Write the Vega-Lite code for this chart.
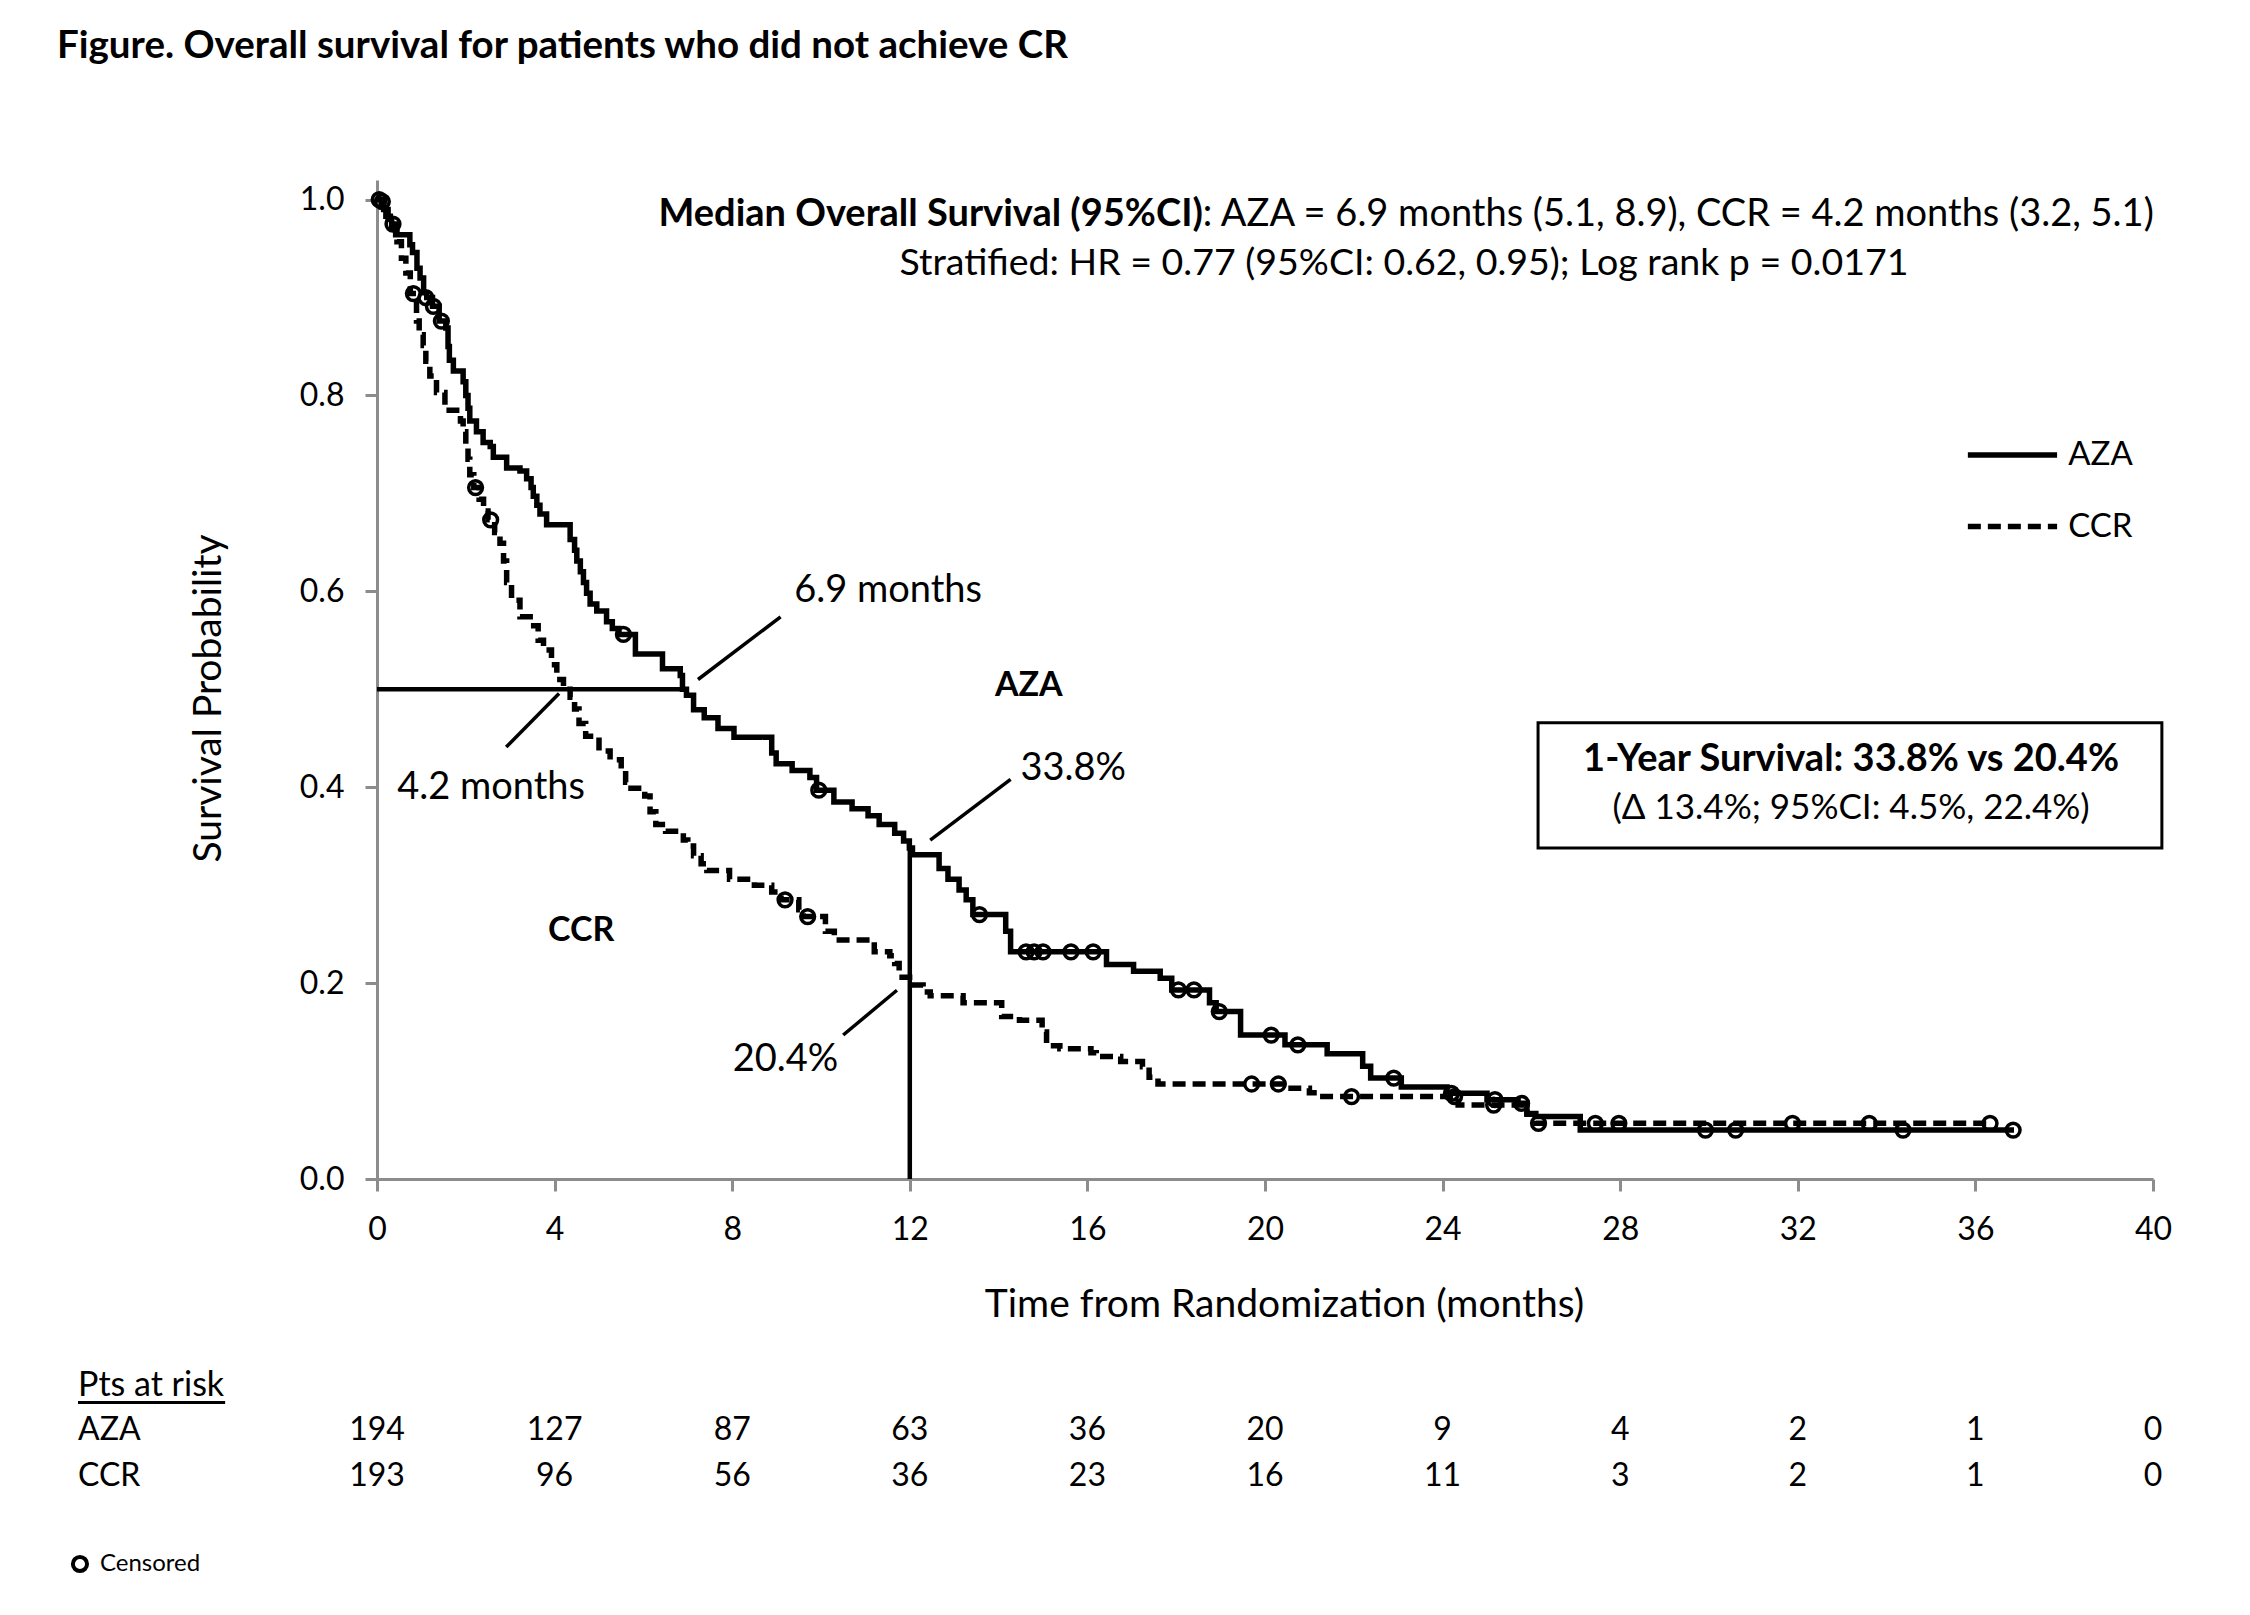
{
  "$schema": "https://vega.github.io/schema/vega-lite/v6.json",
  "width": 1776,
  "height": 999,
  "autosize": {"type": "none"},
  "padding": {"left": 377, "top": 180, "right": 97, "bottom": 436},
  "background": "white",
  "config": {"view": {"stroke": null}, "font": "Lato", "text": {"font": "Lato", "color": "black"}},
  "datasets": {
    "curves": [
      {"arm":"AZA","t":0,"S":1},{"arm":"AZA","t":0.15,"S":0.99},{"arm":"AZA","t":0.25,"S":0.98},{"arm":"AZA","t":0.33,"S":0.971},{"arm":"AZA","t":0.42,"S":0.964},{"arm":"AZA","t":0.74,"S":0.954},{"arm":"AZA","t":0.8,"S":0.946},{"arm":"AZA","t":0.9,"S":0.93},{"arm":"AZA","t":0.97,"S":0.92},{"arm":"AZA","t":1.05,"S":0.905},{"arm":"AZA","t":1.12,"S":0.9},{"arm":"AZA","t":1.25,"S":0.891},{"arm":"AZA","t":1.4,"S":0.876},{"arm":"AZA","t":1.55,"S":0.869},{"arm":"AZA","t":1.6,"S":0.85},{"arm":"AZA","t":1.63,"S":0.836},{"arm":"AZA","t":1.72,"S":0.825},{"arm":"AZA","t":1.94,"S":0.814},{"arm":"AZA","t":2.0,"S":0.8},{"arm":"AZA","t":2.05,"S":0.787},{"arm":"AZA","t":2.09,"S":0.774},{"arm":"AZA","t":2.24,"S":0.763},{"arm":"AZA","t":2.39,"S":0.752},{"arm":"AZA","t":2.55,"S":0.748},{"arm":"AZA","t":2.62,"S":0.737},{"arm":"AZA","t":2.92,"S":0.726},{"arm":"AZA","t":3.22,"S":0.723},{"arm":"AZA","t":3.37,"S":0.715},{"arm":"AZA","t":3.47,"S":0.706},{"arm":"AZA","t":3.52,"S":0.697},{"arm":"AZA","t":3.6,"S":0.688},{"arm":"AZA","t":3.67,"S":0.679},{"arm":"AZA","t":3.82,"S":0.668},{"arm":"AZA","t":4.35,"S":0.653},{"arm":"AZA","t":4.45,"S":0.642},{"arm":"AZA","t":4.5,"S":0.631},{"arm":"AZA","t":4.58,"S":0.62},{"arm":"AZA","t":4.65,"S":0.609},{"arm":"AZA","t":4.72,"S":0.598},{"arm":"AZA","t":4.8,"S":0.587},{"arm":"AZA","t":4.95,"S":0.58},{"arm":"AZA","t":5.17,"S":0.569},{"arm":"AZA","t":5.3,"S":0.562},{"arm":"AZA","t":5.45,"S":0.556},{"arm":"AZA","t":5.82,"S":0.536},{"arm":"AZA","t":6.43,"S":0.521},{"arm":"AZA","t":6.83,"S":0.514},{"arm":"AZA","t":6.88,"S":0.5},{"arm":"AZA","t":6.97,"S":0.494},{"arm":"AZA","t":7.13,"S":0.479},{"arm":"AZA","t":7.37,"S":0.471},{"arm":"AZA","t":7.68,"S":0.46},{"arm":"AZA","t":8.04,"S":0.451},{"arm":"AZA","t":8.89,"S":0.435},{"arm":"AZA","t":8.99,"S":0.424},{"arm":"AZA","t":9.35,"S":0.417},{"arm":"AZA","t":9.75,"S":0.41},{"arm":"AZA","t":9.9,"S":0.397},{"arm":"AZA","t":10.29,"S":0.385},{"arm":"AZA","t":10.7,"S":0.378},{"arm":"AZA","t":11.06,"S":0.371},{"arm":"AZA","t":11.31,"S":0.362},{"arm":"AZA","t":11.66,"S":0.353},{"arm":"AZA","t":11.86,"S":0.345},{"arm":"AZA","t":11.99,"S":0.338},{"arm":"AZA","t":12.06,"S":0.331},{"arm":"AZA","t":12.66,"S":0.317},{"arm":"AZA","t":12.86,"S":0.306},{"arm":"AZA","t":13.11,"S":0.295},{"arm":"AZA","t":13.27,"S":0.285},{"arm":"AZA","t":13.42,"S":0.27},{"arm":"AZA","t":14.16,"S":0.253},{"arm":"AZA","t":14.27,"S":0.232},{"arm":"AZA","t":16.43,"S":0.219},{"arm":"AZA","t":17.04,"S":0.212},{"arm":"AZA","t":17.64,"S":0.205},{"arm":"AZA","t":17.9,"S":0.193},{"arm":"AZA","t":18.75,"S":0.18},{"arm":"AZA","t":18.9,"S":0.171},{"arm":"AZA","t":19.45,"S":0.147},{"arm":"AZA","t":20.45,"S":0.137},{"arm":"AZA","t":21.4,"S":0.128},{"arm":"AZA","t":22.2,"S":0.115},{"arm":"AZA","t":22.38,"S":0.103},{"arm":"AZA","t":23.07,"S":0.094},{"arm":"AZA","t":24.1,"S":0.0875},{"arm":"AZA","t":25.0,"S":0.081},{"arm":"AZA","t":25.7,"S":0.0773},{"arm":"AZA","t":25.9,"S":0.067},{"arm":"AZA","t":26.1,"S":0.0637},{"arm":"AZA","t":27.1,"S":0.05},{"arm":"AZA","t":36.87,"S":0.05},
      {"arm":"CCR","t":0,"S":1},{"arm":"CCR","t":0.1,"S":0.99},{"arm":"CCR","t":0.2,"S":0.983},{"arm":"CCR","t":0.3,"S":0.975},{"arm":"CCR","t":0.45,"S":0.957},{"arm":"CCR","t":0.55,"S":0.94},{"arm":"CCR","t":0.65,"S":0.925},{"arm":"CCR","t":0.75,"S":0.904},{"arm":"CCR","t":0.89,"S":0.876},{"arm":"CCR","t":0.95,"S":0.862},{"arm":"CCR","t":1.04,"S":0.851},{"arm":"CCR","t":1.1,"S":0.835},{"arm":"CCR","t":1.19,"S":0.82},{"arm":"CCR","t":1.34,"S":0.803},{"arm":"CCR","t":1.53,"S":0.785},{"arm":"CCR","t":1.88,"S":0.774},{"arm":"CCR","t":1.94,"S":0.763},{"arm":"CCR","t":2.0,"S":0.75},{"arm":"CCR","t":2.05,"S":0.735},{"arm":"CCR","t":2.09,"S":0.719},{"arm":"CCR","t":2.18,"S":0.706},{"arm":"CCR","t":2.3,"S":0.694},{"arm":"CCR","t":2.4,"S":0.682},{"arm":"CCR","t":2.5,"S":0.673},{"arm":"CCR","t":2.65,"S":0.66},{"arm":"CCR","t":2.77,"S":0.649},{"arm":"CCR","t":2.85,"S":0.631},{"arm":"CCR","t":2.92,"S":0.609},{"arm":"CCR","t":3.03,"S":0.591},{"arm":"CCR","t":3.22,"S":0.574},{"arm":"CCR","t":3.45,"S":0.565},{"arm":"CCR","t":3.63,"S":0.55},{"arm":"CCR","t":3.75,"S":0.54},{"arm":"CCR","t":3.93,"S":0.525},{"arm":"CCR","t":4.05,"S":0.51},{"arm":"CCR","t":4.2,"S":0.5},{"arm":"CCR","t":4.35,"S":0.492},{"arm":"CCR","t":4.45,"S":0.48},{"arm":"CCR","t":4.55,"S":0.465},{"arm":"CCR","t":4.7,"S":0.452},{"arm":"CCR","t":5.0,"S":0.437},{"arm":"CCR","t":5.25,"S":0.428},{"arm":"CCR","t":5.5,"S":0.419},{"arm":"CCR","t":5.6,"S":0.405},{"arm":"CCR","t":5.72,"S":0.399},{"arm":"CCR","t":6.03,"S":0.391},{"arm":"CCR","t":6.15,"S":0.375},{"arm":"CCR","t":6.28,"S":0.362},{"arm":"CCR","t":6.5,"S":0.355},{"arm":"CCR","t":6.9,"S":0.346},{"arm":"CCR","t":7.0,"S":0.34},{"arm":"CCR","t":7.13,"S":0.33},{"arm":"CCR","t":7.3,"S":0.322},{"arm":"CCR","t":7.43,"S":0.315},{"arm":"CCR","t":7.94,"S":0.306},{"arm":"CCR","t":8.5,"S":0.3},{"arm":"CCR","t":8.89,"S":0.293},{"arm":"CCR","t":9.1,"S":0.285},{"arm":"CCR","t":9.5,"S":0.275},{"arm":"CCR","t":9.6,"S":0.268},{"arm":"CCR","t":10.1,"S":0.253},{"arm":"CCR","t":10.3,"S":0.244},{"arm":"CCR","t":11.2,"S":0.232},{"arm":"CCR","t":11.55,"S":0.228},{"arm":"CCR","t":11.66,"S":0.22},{"arm":"CCR","t":11.76,"S":0.206},{"arm":"CCR","t":12.1,"S":0.198},{"arm":"CCR","t":12.3,"S":0.191},{"arm":"CCR","t":12.46,"S":0.187},{"arm":"CCR","t":13.2,"S":0.18},{"arm":"CCR","t":14.07,"S":0.166},{"arm":"CCR","t":14.47,"S":0.162},{"arm":"CCR","t":14.98,"S":0.15},{"arm":"CCR","t":15.08,"S":0.136},{"arm":"CCR","t":15.38,"S":0.133},{"arm":"CCR","t":16.08,"S":0.129},{"arm":"CCR","t":16.2,"S":0.125},{"arm":"CCR","t":16.75,"S":0.12},{"arm":"CCR","t":17.24,"S":0.1145},{"arm":"CCR","t":17.39,"S":0.104},{"arm":"CCR","t":17.59,"S":0.097},{"arm":"CCR","t":20.5,"S":0.0926},{"arm":"CCR","t":21.0,"S":0.088},{"arm":"CCR","t":21.2,"S":0.0842},{"arm":"CCR","t":24.35,"S":0.0755},{"arm":"CCR","t":25.9,"S":0.066},{"arm":"CCR","t":26.1,"S":0.0568},{"arm":"CCR","t":36.33,"S":0.0568}
    ],
    "censor": [
      {"arm":"AZA","t":0.05,"S":1.0},{"arm":"AZA","t":1.1,"S":0.9},{"arm":"AZA","t":1.27,"S":0.891},{"arm":"AZA","t":1.45,"S":0.876},{"arm":"AZA","t":5.55,"S":0.556},{"arm":"AZA","t":9.95,"S":0.397},{"arm":"AZA","t":13.57,"S":0.27},{"arm":"AZA","t":14.62,"S":0.232},{"arm":"AZA","t":14.8,"S":0.232},{"arm":"AZA","t":15.0,"S":0.232},{"arm":"AZA","t":15.63,"S":0.232},{"arm":"AZA","t":16.13,"S":0.232},{"arm":"AZA","t":18.05,"S":0.193},{"arm":"AZA","t":18.4,"S":0.193},{"arm":"AZA","t":18.97,"S":0.171},{"arm":"AZA","t":20.14,"S":0.147},{"arm":"AZA","t":20.74,"S":0.137},{"arm":"AZA","t":22.9,"S":0.103},{"arm":"AZA","t":24.2,"S":0.0875},{"arm":"AZA","t":25.18,"S":0.081},{"arm":"AZA","t":25.78,"S":0.0773},{"arm":"AZA","t":29.92,"S":0.05},{"arm":"AZA","t":30.6,"S":0.05},{"arm":"AZA","t":34.37,"S":0.05},{"arm":"AZA","t":36.85,"S":0.05},
      {"arm":"CCR","t":0.12,"S":0.998},{"arm":"CCR","t":0.36,"S":0.975},{"arm":"CCR","t":0.82,"S":0.904},{"arm":"CCR","t":2.22,"S":0.706},{"arm":"CCR","t":2.56,"S":0.673},{"arm":"CCR","t":9.19,"S":0.285},{"arm":"CCR","t":9.7,"S":0.268},{"arm":"CCR","t":19.7,"S":0.097},{"arm":"CCR","t":20.3,"S":0.097},{"arm":"CCR","t":21.95,"S":0.0842},{"arm":"CCR","t":24.27,"S":0.0842},{"arm":"CCR","t":25.15,"S":0.0755},{"arm":"CCR","t":26.16,"S":0.0568},{"arm":"CCR","t":27.44,"S":0.0568},{"arm":"CCR","t":27.97,"S":0.0568},{"arm":"CCR","t":31.88,"S":0.0568},{"arm":"CCR","t":33.61,"S":0.0568},{"arm":"CCR","t":36.33,"S":0.0568}
    ],
    "medianRules": [
      {"t":0,"S":0.5,"t2":6.9,"S2":0.5},
      {"t":12,"S":0,"t2":12,"S2":0.338}
    ],
    "leaders": [
      {"t":7.23,"S":0.51,"t2":9.09,"S2":0.574},
      {"t":2.91,"S":0.441,"t2":4.1,"S2":0.4956},
      {"t":12.46,"S":0.346,"t2":14.27,"S2":0.408},
      {"t":10.5,"S":0.147,"t2":11.71,"S2":0.1927}
    ],
    "box": [{"t":26.15,"S":0.338,"t2":40.2,"S2":0.4658}],
    "legendRules": [
      {"arm":"AZA","t":35.83,"t2":37.84,"S":0.7392},
      {"arm":"CCR","t":35.83,"t2":37.84,"S":0.6662}
    ],
    "legendText": [
      {"t":38.09,"S":0.7392,"label":"AZA"},
      {"t":38.09,"S":0.6662,"label":"CCR"}
    ],
    "annot": [
      {"t":11.51,"S":0.6004,"label":"6.9 months"},
      {"t":15.68,"S":0.4186,"label":"33.8%"},
      {"t":2.57,"S":0.3996,"label":"4.2 months"},
      {"t":9.2,"S":0.1215,"label":"20.4%"}
    ],
    "armLabels": [
      {"t":14.68,"S":0.5034,"label":"AZA"},
      {"t":4.6,"S":0.2532,"label":"CCR"}
    ],
    "titleText": [{"t":-7.207,"S":1.1568,"label":"Figure. Overall survival for patients who did not achieve CR"}],
    "medBold": [{"t":18.6,"S":0.9843,"label":"Median Overall Survival (95%CI)"}],
    "medNormal": [{"t":18.6,"S":0.9843,"label":": AZA = 6.9 months (5.1, 8.9), CCR = 4.2 months (3.2, 5.1)"}],
    "medLine2": [{"t":23.13,"S":0.9343,"label":"Stratified: HR = 0.77 (95%CI: 0.62, 0.95); Log rank p = 0.0171"}],
    "boxLine1": [{"t":33.2,"S":0.4278,"label":"1-Year Survival: 33.8% vs 20.4%"}],
    "boxLine2": [{"t":33.2,"S":0.3791,"label":"(Δ 13.4%; 95%CI: 4.5%, 22.4%)"}],
    "tableHead": [{"t":-6.734,"S":-0.2114,"label":"Pts at risk"}],
    "tableLeft": [
      {"t":-6.734,"S":-0.2563,"label":"AZA"},
      {"t":-6.734,"S":-0.3032,"label":"CCR"}
    ],
    "underline": [{"t":-6.734,"S":-0.2283,"t2":-3.42,"S2":-0.2283}],
    "risk": [
      {"arm":"AZA","t":0,"S":-0.2563,"n":194},{"arm":"AZA","t":4,"S":-0.2563,"n":127},{"arm":"AZA","t":8,"S":-0.2563,"n":87},{"arm":"AZA","t":12,"S":-0.2563,"n":63},{"arm":"AZA","t":16,"S":-0.2563,"n":36},{"arm":"AZA","t":20,"S":-0.2563,"n":20},{"arm":"AZA","t":24,"S":-0.2563,"n":9},{"arm":"AZA","t":28,"S":-0.2563,"n":4},{"arm":"AZA","t":32,"S":-0.2563,"n":2},{"arm":"AZA","t":36,"S":-0.2563,"n":1},{"arm":"AZA","t":40,"S":-0.2563,"n":0},
      {"arm":"CCR","t":0,"S":-0.3032,"n":193},{"arm":"CCR","t":4,"S":-0.3032,"n":96},{"arm":"CCR","t":8,"S":-0.3032,"n":56},{"arm":"CCR","t":12,"S":-0.3032,"n":36},{"arm":"CCR","t":16,"S":-0.3032,"n":23},{"arm":"CCR","t":20,"S":-0.3032,"n":16},{"arm":"CCR","t":24,"S":-0.3032,"n":11},{"arm":"CCR","t":28,"S":-0.3032,"n":3},{"arm":"CCR","t":32,"S":-0.3032,"n":2},{"arm":"CCR","t":36,"S":-0.3032,"n":1},{"arm":"CCR","t":40,"S":-0.3032,"n":0}
    ],
    "censKeyPoint": [{"t":-6.69,"S":-0.3931}],
    "censKeyText": [{"t":-6.24,"S":-0.3931,"label":"Censored"}]
  },
  "encoding": {
    "x": {
      "field": "t", "type": "quantitative",
      "scale": {"domain": [0, 40], "nice": false, "zero": false},
      "axis": {
        "values": [0, 4, 8, 12, 16, 20, 24, 28, 32, 36, 40],
        "title": "Time from Randomization (months)",
        "titleFont": "Lato", "titleFontSize": 39, "titleFontWeight": "normal", "titleColor": "black",
        "titleX": 907, "titleY": 125, "titleBaseline": "middle", "titleAlign": "center",
        "labelFont": "Lato", "labelFontSize": 32, "labelColor": "black", "labelPadding": 23, "labelFlush": false,
        "tickSize": 12, "tickWidth": 3, "tickColor": "#8c8c8c",
        "domainWidth": 3, "domainColor": "#8c8c8c", "grid": false
      }
    },
    "y": {
      "field": "S", "type": "quantitative",
      "scale": {"domain": [0, 1.02], "nice": false},
      "axis": {
        "values": [0, 0.2, 0.4, 0.6, 0.8, 1.0], "format": ".1f",
        "title": "Survival Probability",
        "titleFont": "Lato", "titleFontSize": 39, "titleFontWeight": "normal", "titleColor": "black",
        "titleX": -169, "titleY": 518, "titleBaseline": "middle", "titleAlign": "center",
        "labelFont": "Lato", "labelFontSize": 32, "labelColor": "black", "labelPadding": 21,
        "tickSize": 12, "tickWidth": 3, "tickColor": "#8c8c8c",
        "domainWidth": 3, "domainColor": "#8c8c8c", "grid": false
      }
    }
  },
  "layer": [
    {
      "data": {"name": "curves"},
      "mark": {"type": "line", "interpolate": "step-after", "color": "black", "strokeWidth": 5.5},
      "encoding": {
        "strokeDash": {"field": "arm", "type": "nominal", "scale": {"domain": ["AZA", "CCR"], "range": [[1, 0], [13, 7]]}, "legend": null}
      }
    },
    {
      "data": {"name": "censor"},
      "mark": {"type": "point", "shape": "circle", "filled": false, "stroke": "black", "strokeWidth": 3.5, "size": 190, "opacity": 1}
    },
    {
      "data": {"name": "medianRules"},
      "mark": {"type": "rule", "color": "black", "strokeWidth": 4.5},
      "encoding": {"x2": {"field": "t2"}, "y2": {"field": "S2"}}
    },
    {
      "data": {"name": "leaders"},
      "mark": {"type": "rule", "color": "black", "strokeWidth": 3.5},
      "encoding": {"x2": {"field": "t2"}, "y2": {"field": "S2"}}
    },
    {
      "data": {"name": "box"},
      "mark": {"type": "rect", "fill": "white", "stroke": "black", "strokeWidth": 3},
      "encoding": {"x2": {"field": "t2"}, "y2": {"field": "S2"}}
    },
    {
      "data": {"name": "legendRules"},
      "mark": {"type": "rule", "color": "black", "strokeWidth": 5.5},
      "encoding": {
        "x2": {"field": "t2"},
        "strokeDash": {"field": "arm", "type": "nominal", "legend": null}
      }
    },
    {
      "data": {"name": "legendText"},
      "mark": {"type": "text", "align": "left", "baseline": "middle", "fontSize": 33},
      "encoding": {"text": {"field": "label"}}
    },
    {
      "data": {"name": "annot"},
      "mark": {"type": "text", "align": "center", "baseline": "middle", "fontSize": 38},
      "encoding": {"text": {"field": "label"}}
    },
    {
      "data": {"name": "armLabels"},
      "mark": {"type": "text", "align": "center", "baseline": "middle", "fontSize": 34, "fontWeight": "bold"},
      "encoding": {"text": {"field": "label"}}
    },
    {
      "data": {"name": "titleText"},
      "mark": {"type": "text", "align": "left", "baseline": "middle", "fontSize": 38.5, "fontWeight": "bold"},
      "encoding": {"text": {"field": "label"}}
    },
    {
      "data": {"name": "medBold"},
      "mark": {"type": "text", "align": "right", "baseline": "middle", "fontSize": 38, "fontWeight": "bold"},
      "encoding": {"text": {"field": "label"}}
    },
    {
      "data": {"name": "medNormal"},
      "mark": {"type": "text", "align": "left", "baseline": "middle", "fontSize": 38},
      "encoding": {"text": {"field": "label"}}
    },
    {
      "data": {"name": "medLine2"},
      "mark": {"type": "text", "align": "center", "baseline": "middle", "fontSize": 37.5},
      "encoding": {"text": {"field": "label"}}
    },
    {
      "data": {"name": "boxLine1"},
      "mark": {"type": "text", "align": "center", "baseline": "middle", "fontSize": 38, "fontWeight": "bold"},
      "encoding": {"text": {"field": "label"}}
    },
    {
      "data": {"name": "boxLine2"},
      "mark": {"type": "text", "align": "center", "baseline": "middle", "fontSize": 35},
      "encoding": {"text": {"field": "label"}}
    },
    {
      "data": {"name": "tableHead"},
      "mark": {"type": "text", "align": "left", "baseline": "middle", "fontSize": 34},
      "encoding": {"text": {"field": "label"}}
    },
    {
      "data": {"name": "tableLeft"},
      "mark": {"type": "text", "align": "left", "baseline": "middle", "fontSize": 32},
      "encoding": {"text": {"field": "label"}}
    },
    {
      "data": {"name": "underline"},
      "mark": {"type": "rule", "color": "black", "strokeWidth": 3},
      "encoding": {"x2": {"field": "t2"}, "y2": {"field": "S2"}}
    },
    {
      "data": {"name": "risk"},
      "mark": {"type": "text", "align": "center", "baseline": "middle", "fontSize": 32},
      "encoding": {"text": {"field": "n", "type": "quantitative"}}
    },
    {
      "data": {"name": "censKeyPoint"},
      "mark": {"type": "point", "shape": "circle", "filled": false, "stroke": "black", "strokeWidth": 4, "size": 200, "opacity": 1}
    },
    {
      "data": {"name": "censKeyText"},
      "mark": {"type": "text", "align": "left", "baseline": "middle", "fontSize": 24},
      "encoding": {"text": {"field": "label"}}
    }
  ]
}
